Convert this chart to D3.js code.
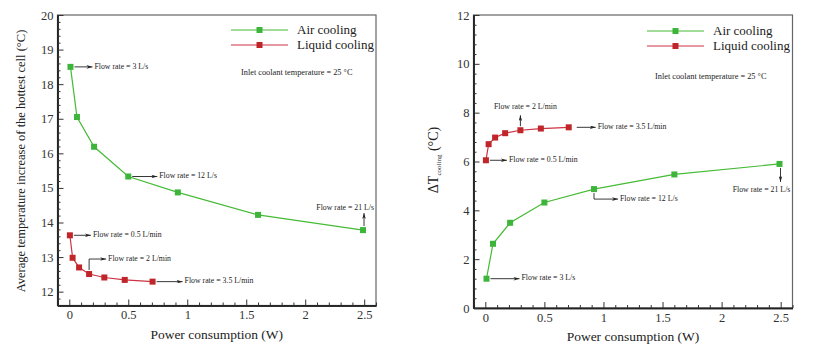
<!DOCTYPE html>
<html><head><meta charset="utf-8">
<script src="https://cdn.jsdelivr.net/npm/d3@7"></script>
<style>body{margin:0;background:#fff}svg{display:block}svg text{font-family:"Liberation Serif","Times New Roman",serif !important}</style>
</head><body><svg id="c" width="814" height="364"></svg>
<script>
const airX = [0.01, 0.065, 0.21, 0.5, 0.92, 1.6, 2.49];
const liqX = [0.005, 0.028, 0.083, 0.168, 0.297, 0.47, 0.706];
const airTemp = [18.5, 17.05, 16.19, 15.33, 14.87, 14.22, 13.78];
const liqTemp = [13.63, 12.98, 12.70, 12.51, 12.41, 12.34, 12.29];
const airDT = [1.2, 2.63, 3.49, 4.32, 4.87, 5.47, 5.90];
const liqDT = [6.05, 6.71, 6.98, 7.16, 7.28, 7.35, 7.40];
const xTicks = [0, 0.5, 1, 1.5, 2, 2.5];
const xTickLabels = ["0", "0.5", "1", "1.5", "2", "2.5"];
const yTicksL = [12, 13, 14, 15, 16, 17, 18, 19, 20];
const yTicksR = [0, 2, 4, 6, 8, 10, 12];
const seriesNames = ["Air cooling", "Liquid cooling"];
const inletNote = "Inlet coolant temperature = 25 °C";

const FONT = '"Liberation Serif","Times New Roman",serif';
const GREEN = "#45bb35", GREEN_M = "#3db53a", RED = "#cc3344", RED_M = "#bf2529";
const svg = d3.select("#c").attr("font-family", FONT);
const defs = svg.append("defs");
defs.append("marker").attr("id","ah").attr("viewBox","0 0 10 6").attr("refX",10).attr("refY",3)
  .attr("markerWidth",10).attr("markerHeight",4).attr("orient","auto")
  .append("path").attr("d","M0,0L10,3L0,6L3,3Z").attr("fill","#222");

function panel(cfg){
  const g = svg.append("g");
  const x = d3.scaleLinear().domain([-0.1, 2.6]).range([cfg.l, cfg.r]);
  const y = d3.scaleLinear().domain(cfg.yd).range([cfg.b, cfg.t]);
  g.append("rect").attr("x",cfg.l).attr("y",cfg.t).attr("width",cfg.r-cfg.l).attr("height",cfg.b-cfg.t)
   .attr("fill","none").attr("stroke","#666").attr("stroke-width",1.2);
  const xa = g.append("g").attr("transform",`translate(0,${cfg.b})`)
    .call(d3.axisBottom(x).tickValues(xTicks).tickFormat((d,i)=>xTickLabels[i]).tickSizeInner(-6).tickSizeOuter(0).tickPadding(5));
  const xm = g.append("g").attr("transform",`translate(0,${cfg.b})`)
    .call(d3.axisBottom(x).tickValues(d3.range(-0.1,2.61,0.1).map(v=>+v.toFixed(2)).filter(v=>!xTicks.includes(v))).tickFormat("").tickSizeInner(-3).tickSizeOuter(0));
  const ya = g.append("g").attr("transform",`translate(${cfg.l},0)`)
    .call(d3.axisLeft(y).tickValues(cfg.yt).tickSizeInner(-6).tickSizeOuter(0).tickPadding(4));
  const ym = g.append("g").attr("transform",`translate(${cfg.l},0)`)
    .call(d3.axisLeft(y).tickValues(cfg.ym).tickFormat("").tickSizeInner(-3).tickSizeOuter(0));
  [xa,xm,ya,ym].forEach(a=>{a.attr("font-family",FONT);
    a.select(".domain").attr("stroke","#222").attr("stroke-width",1.5);
    a.selectAll(".tick line").attr("stroke","#333");
    a.selectAll("text").attr("font-size",12.5).attr("fill","#333").style("font-family",FONT);});
  const line = d3.line().x(d=>x(d[0])).y(d=>y(d[1]));
  const series = [
    {xs: airX, ys: cfg.air, c: GREEN, m: GREEN_M},
    {xs: liqX, ys: cfg.liq, c: RED, m: RED_M}];
  series.forEach(s=>{
    const pts = s.xs.map((v,i)=>[v, s.ys[i]]);
    g.append("path").attr("d",line(pts)).attr("fill","none").attr("stroke",s.c).attr("stroke-width",1.2);
    g.selectAll(null).data(pts).enter().append("rect")
      .attr("x",d=>x(d[0])-3).attr("y",d=>y(d[1])-3).attr("width",6).attr("height",6).attr("fill",s.m);
  });
  series.forEach((s,i)=>{
    const yy = cfg.legY + i*15;
    g.append("line").attr("x1",cfg.legX).attr("x2",cfg.legX+57).attr("y1",yy).attr("y2",yy).attr("stroke",s.c).attr("stroke-width",1);
    g.append("rect").attr("x",cfg.legX+28.5-3).attr("y",yy-3).attr("width",6).attr("height",6).attr("fill",s.m);
    g.append("text").attr("x",cfg.legX+66).attr("y",yy+4).attr("font-size",13).attr("fill","#222").style("font-family",FONT).text(seriesNames[i]);
  });
  g.append("text").attr("x",cfg.noteX).attr("y",cfg.noteY).attr("font-size",8.3).attr("fill","#222").style("font-family",FONT).text(inletNote);
  cfg.ann.forEach(a=>{
    const p = [x(a.px), y(a.py)];
    g.append("path").attr("d", d3.line()(a.path(p))).attr("fill","none").attr("stroke","#222").attr("stroke-width",0.9).attr("marker-end","url(#ah)");
    g.append("text").attr("x",a.tx(p)[0]).attr("y",a.tx(p)[1]).attr("font-size",7.8).attr("fill","#222").style("font-family",FONT)
      .attr("text-anchor",a.anchor||"start").attr("dominant-baseline","middle").text(a.t);
  });
  g.append("text").attr("x",(cfg.l+cfg.r)/2).attr("y",cfg.titleY).attr("text-anchor","middle").attr("font-size",13.5).attr("fill","#222").style("font-family",FONT).text("Power consumption (W)");
  return {g,x,y};
}

const L = panel({l:57.5, r:376, t:15, b:305.5, yd:[11.6,20], yt:yTicksL, titleY:339,
  ym:d3.range(11.6,20.01,0.2).map(v=>+v.toFixed(1)).filter(v=>!yTicksL.includes(v)),
  air:airTemp, liq:liqTemp, legX:231, legY:30, noteX:241, noteY:75,
  ann:[
    {px:airX[0],py:airTemp[0],t:"Flow rate = 3 L/s",path:p=>[[p[0]+4,p[1]],[p[0]+22,p[1]]],tx:p=>[p[0]+24,p[1]]},
    {px:airX[3],py:airTemp[3],t:"Flow rate = 12 L/s",path:p=>[[p[0]+4,p[1]],[p[0]+29,p[1]]],tx:p=>[p[0]+31,p[1]]},
    {px:airX[6],py:airTemp[6],t:"Flow rate = 21 L/s",path:p=>[[p[0]+1,p[1]-4],[p[0]+1,p[1]-17]],tx:p=>[p[0]+11,p[1]-22],anchor:"end"},
    {px:liqX[0],py:liqTemp[0],t:"Flow rate = 0.5 L/min",path:p=>[[p[0]+4,p[1]],[p[0]+21,p[1]]],tx:p=>[p[0]+23,p[1]]},
    {px:liqX[3],py:liqTemp[3],t:"Flow rate = 2 L/min",path:p=>[[p[0],p[1]-4],[p[0],p[1]-15],[p[0]+17,p[1]-15]],tx:p=>[p[0]+19,p[1]-15]},
    {px:liqX[6],py:liqTemp[6],t:"Flow rate = 3.5 L/min",path:p=>[[p[0]+4,p[1]],[p[0]+30,p[1]]],tx:p=>[p[0]+32,p[1]]}
  ]});
L.g.append("text").attr("transform","translate(25,161) rotate(-90)").attr("text-anchor","middle").attr("font-size",12.5).attr("fill","#222").style("font-family",FONT)
  .text("Average temperature increase of the hottest cell (°C)");

const R = panel({l:473.5, r:792.5, t:15, b:308, yd:[0,12], yt:yTicksR, titleY:341,
  ym:d3.range(0,12.01,0.4).map(v=>+v.toFixed(1)).filter(v=>!yTicksR.includes(v)),
  air:airDT, liq:liqDT, legX:647, legY:31, noteX:655, noteY:79,
  ann:[
    {px:airX[0],py:airDT[0],t:"Flow rate = 3 L/s",path:p=>[[p[0]+4,p[1]],[p[0]+33,p[1]]],tx:p=>[p[0]+35,p[1]]},
    {px:airX[4],py:airDT[4],t:"Flow rate = 12 L/s",path:p=>[[p[0],p[1]+4],[p[0],p[1]+10],[p[0]+24,p[1]+10]],tx:p=>[p[0]+26,p[1]+10]},
    {px:airX[6],py:airDT[6],t:"Flow rate = 21 L/s",path:p=>[[p[0]+1,p[1]+4],[p[0]+1,p[1]+18]],tx:p=>[p[0]-18,p[1]+26],anchor:"middle"},
    {px:liqX[0],py:liqDT[0],t:"Flow rate = 0.5 L/min",path:p=>[[p[0]+4,p[1]],[p[0]+21,p[1]]],tx:p=>[p[0]+23,p[1]]},
    {px:liqX[4],py:liqDT[4],t:"Flow rate = 2 L/min",path:p=>[[p[0],p[1]-4],[p[0],p[1]-15]],tx:p=>[p[0]+5,p[1]-23],anchor:"middle"},
    {px:liqX[6],py:liqDT[6],t:"Flow rate = 3.5 L/min",path:p=>[[p[0]+8,p[1]],[p[0]+27,p[1]]],tx:p=>[p[0]+29,p[1]]}
  ]});
const yl = R.g.append("text").attr("transform","translate(438,160) rotate(-90)").attr("text-anchor","middle").attr("font-size",14).attr("fill","#222").style("font-family",FONT);
yl.append("tspan").text("ΔT");
yl.append("tspan").attr("font-size",7).attr("dy",3).text("cooling");
yl.append("tspan").attr("dy",-3).text(" (°C)");
</script></body></html>
